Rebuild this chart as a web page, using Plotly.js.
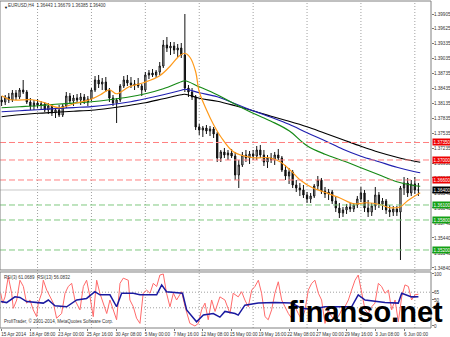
<!DOCTYPE html>
<html><head><meta charset="utf-8">
<script src="https://cdn.plot.ly/plotly-3.0.1.min.js"></script>
<style>html,body{margin:0;padding:0;background:#fff;}#chart{width:450px;height:337px;}</style>
</head><body><div id="chart"></div>
<script>
// bar index: 0 = 18 Apr 2014 08:00 (H4 bars, two bars per candle)
const barIdx = [-16,-14,-12,-10,-8,-6,-4,-2,0,2,
 4,6,8,10,12,14,16,18,20,22,
 24,26,28,30,32,34,36,38,40,42,
 44,46,48,50,52,54,56,58,60,62,
 64,66,68,70,72,74,76,78,80,82,
 84,86,88,90,92,94,96,98,100,102,
 104,106,108,110,112,114,116,118,120,122,
 124,126,128,130,132,134,136,138,140,142,
 144,146,148,150,152,154,156,158,160,162,
 164,166,168,170,172,174,176,178,180,182,
 184,186,188,190,192,194,196,198,200,202,
 204,206,208,210,212,214,216];
const opens = [1.3820,1.3816,1.3826,1.3820,1.3834,1.3826,1.3840,1.3836,1.3816,1.3808,
 1.3814,1.3810,1.3812,1.3800,1.3808,1.3794,1.3800,1.3790,1.3808,1.3828,
 1.3818,1.3824,1.3820,1.3826,1.3816,1.3822,1.3840,1.3860,1.3852,1.3856,
 1.3840,1.3824,1.3814,1.3820,1.3848,1.3860,1.3854,1.3850,1.3852,1.3848,
 1.3840,1.3870,1.3874,1.3870,1.3876,1.3888,1.3930,1.3924,1.3928,1.3920,
 1.3924,1.3910,1.3844,1.3836,1.3826,1.3766,1.3760,1.3764,1.3758,1.3762,
 1.3752,1.3704,1.3716,1.3710,1.3714,1.3708,1.3670,1.3690,1.3710,1.3704,
 1.3712,1.3708,1.3720,1.3710,1.3696,1.3704,1.3700,1.3710,1.3704,1.3680,
 1.3668,1.3676,1.3650,1.3644,1.3640,1.3630,1.3622,1.3628,1.3648,1.3660,
 1.3638,1.3632,1.3636,1.3618,1.3604,1.3594,1.3600,1.3606,1.3602,1.3610,
 1.3622,1.3634,1.3604,1.3596,1.3608,1.3630,1.3612,1.3618,1.3600,1.3596,
 1.3602,1.3596,1.3644,1.3654,1.3634,1.3652,1.3640];
const highs = [1.3828,1.3830,1.3834,1.3840,1.3840,1.3844,1.3860,1.3840,1.3824,1.3820,
 1.3822,1.3818,1.3816,1.3814,1.3812,1.3804,1.3810,1.3812,1.3836,1.3834,
 1.3830,1.3832,1.3834,1.3832,1.3828,1.3844,1.3868,1.3870,1.3864,1.3866,
 1.3844,1.3830,1.3824,1.3852,1.3868,1.3870,1.3866,1.3860,1.3864,1.3852,
 1.3876,1.3880,1.3882,1.3880,1.3896,1.3940,1.3946,1.3936,1.3936,1.3932,
 1.3934,1.3992,1.3850,1.3844,1.3830,1.3772,1.3768,1.3770,1.3768,1.3766,
 1.3756,1.3720,1.3724,1.3720,1.3722,1.3716,1.3700,1.3716,1.3720,1.3718,
 1.3720,1.3728,1.3730,1.3720,1.3710,1.3714,1.3716,1.3722,1.3708,1.3690,
 1.3684,1.3680,1.3660,1.3654,1.3650,1.3636,1.3634,1.3652,1.3668,1.3664,
 1.3646,1.3642,1.3640,1.3626,1.3614,1.3606,1.3612,1.3614,1.3614,1.3628,
 1.3646,1.3640,1.3620,1.3614,1.3646,1.3636,1.3624,1.3622,1.3610,1.3608,
 1.3608,1.3648,1.3666,1.3664,1.3660,1.3666,1.3654];
const lows = [1.3808,1.3810,1.3814,1.3816,1.3820,1.3822,1.3832,1.3812,1.3800,1.3800,
 1.3804,1.3802,1.3796,1.3792,1.3788,1.3784,1.3786,1.3786,1.3804,1.3812,
 1.3808,1.3814,1.3810,1.3812,1.3808,1.3818,1.3836,1.3844,1.3840,1.3836,
 1.3816,1.3808,1.3774,1.3816,1.3844,1.3848,1.3844,1.3840,1.3844,1.3828,
 1.3836,1.3862,1.3866,1.3864,1.3870,1.3884,1.3916,1.3910,1.3912,1.3906,
 1.3904,1.3836,1.3826,1.3820,1.3760,1.3750,1.3746,1.3752,1.3748,1.3744,
 1.3696,1.3696,1.3704,1.3700,1.3704,1.3660,1.3644,1.3686,1.3696,1.3692,
 1.3700,1.3700,1.3704,1.3688,1.3684,1.3694,1.3690,1.3700,1.3676,1.3660,
 1.3652,1.3644,1.3636,1.3628,1.3624,1.3614,1.3614,1.3624,1.3640,1.3632,
 1.3624,1.3620,1.3612,1.3596,1.3584,1.3586,1.3592,1.3596,1.3596,1.3604,
 1.3616,1.3596,1.3586,1.3588,1.3600,1.3604,1.3600,1.3592,1.3586,1.3588,
 1.3588,1.3500,1.3630,1.3626,1.3628,1.3632,1.3628];
const closes = [1.3816,1.3826,1.3820,1.3834,1.3826,1.3840,1.3836,1.3816,1.3808,1.3814,
 1.3810,1.3812,1.3800,1.3808,1.3794,1.3800,1.3790,1.3808,1.3828,1.3818,
 1.3824,1.3820,1.3826,1.3816,1.3822,1.3840,1.3860,1.3852,1.3856,1.3840,
 1.3824,1.3814,1.3820,1.3848,1.3860,1.3854,1.3850,1.3852,1.3848,1.3840,
 1.3870,1.3874,1.3870,1.3876,1.3888,1.3930,1.3924,1.3928,1.3920,1.3924,
 1.3910,1.3844,1.3836,1.3826,1.3766,1.3760,1.3764,1.3758,1.3762,1.3752,
 1.3704,1.3716,1.3710,1.3714,1.3708,1.3670,1.3690,1.3710,1.3704,1.3712,
 1.3708,1.3720,1.3710,1.3696,1.3704,1.3700,1.3710,1.3704,1.3680,1.3668,
 1.3676,1.3650,1.3644,1.3640,1.3630,1.3622,1.3628,1.3648,1.3660,1.3638,
 1.3632,1.3636,1.3618,1.3604,1.3594,1.3600,1.3606,1.3602,1.3610,1.3622,
 1.3634,1.3604,1.3596,1.3608,1.3630,1.3612,1.3618,1.3600,1.3596,1.3602,
 1.3596,1.3644,1.3654,1.3634,1.3652,1.3640,1.3640];

// moving averages (read at sample points)
const maIdx = [-16,-6,4,14,24,34,44,54,64,74,84,86,94,104,114,124,134,144,154,164,174,184,194,204,214,217];
const maBlack = [1.37865,1.37905,1.37935,1.37955,1.37975,1.37995,1.38035,1.38085,1.38145,1.38225,1.38305,1.38315,1.38235,1.38175,1.38085,1.37985,1.37875,1.37775,1.37665,1.37535,1.37405,1.37275,1.37155,1.37055,1.36975,1.36955];
const maBlue = [1.37965,1.37985,1.38005,1.38029,1.38049,1.38069,1.38105,1.38155,1.38225,1.38305,1.38395,1.38415,1.38345,1.38265,1.38125,1.37985,1.37855,1.37715,1.37545,1.37385,1.37215,1.37075,1.36965,1.36855,1.36765,1.36745];
const maGreen = [1.38045,1.38065,1.38085,1.38115,1.38139,1.38165,1.38205,1.38255,1.38325,1.38425,1.38565,1.38585,1.38465,1.38305,1.38115,1.37935,1.37775,1.37585,1.37285,1.37115,1.36985,1.36845,1.36705,1.36565,1.36485,1.36475];
const orangeIdx = [-16,-11,1,8,16,26,33,39,44,48,55,63,72,78,83,86,89,92,94,98,102,106,113,124,133,139,145,150,157,163,172,180,187,195,200,206,210,217];
const maOrange = [1.38285,1.38205,1.38205,1.38145,1.38045,1.38145,1.38205,1.38305,1.38405,1.38325,1.38465,1.38545,1.38685,1.38885,1.39085,1.39135,1.39045,1.38765,1.38365,1.38005,1.37705,1.37465,1.37165,1.37045,1.37045,1.36965,1.36785,1.36605,1.36445,1.36365,1.36245,1.36125,1.36145,1.36105,1.36045,1.36065,1.36185,1.36345];

// RSI
const rsi3Idx = [-16.5,-15.4,-14.1,-12.3,-10.4,-9.5,-7.6,-5.8,-3.9,-2.1,-0.2,1.6,3.5,4.4,6.3,7.2,9.1,10.9,12.8,14.6,17.4,19.3,21.1,23,24.8,27.6,29.5,31.3,33.2,35,36.9,38.7,40.6,42.5,44.3,46.2,48,49.9,51.7,54.5,55.4,57.3,59.1,61,62.8,64.7,66.6,68.4,70.3,72.1,74,75.8,77.7,79.6,81.4,84.2,86.1,88.8,91.6,93.5,95.3,97.2,99,100.9,102.8,105.5,108.3,
 111.1,112.9,115.7,117.6,119.4,121.3,123.2,125,126.9,128.7,130.6,132.4,134.3,136.1,138,139.9,141.7,143.6,145.4,147.3,149.1,151,152.9,154.7,156.6,158.4,160.3,162.1,164,165.8,167.7,169.6,171.4,173.3,175.1,177,178.8,180.7,182.5,184.4,186.3,188.1,190,191.8,193.7,195.5,197.4,199.3,201.1,203,204.8,206.7,208.5,210.4,212.2,214.1,216];
const rsi3 = [63,44,56,95,63,34,50,88,76,44,50,31,18,44,63,88,69,56,44,15,24,63,76,82,50,31,76,88,56,18,88,63,44,24,50,31,12,82,92,88,50,37,15,5,63,69,63,82,76,98,100,63,37,63,50,66,37,5,0,5,31,44,12,50,28,56,50,
 24,63,56,66,50,37,69,76,88,63,18,12,31,63,85,50,37,24,15,37,24,12,31,69,82,88,63,50,5,31,18,12,18,31,37,50,69,88,98,63,31,24,37,44,82,76,63,69,31,50,8,56,79,76,50,60,61.07];
const rsi13Idx = [-16.5,-13.2,-8.6,-5.8,-2.1,1.6,7.2,10,13.7,20.2,25.8,31.3,35.9,38.7,44.3,48,50.8,57.3,61,70.3,73.1,75.8,83.3,84.7,87,92.5,96.3,101.8,105.5,108.3,113.9,115.7,119.4,126.9,136.1,145.4,151,156.6,164,178.8,182.5,186.3,197.4,204.8,206.7,212.2,216];
const rsi13 = [47,45,56,55,47,46,44,50,39,37,50,53,66,60,60,37,63,63,60,60,79,66,64,63,31,8,21,24,17,28,24,21,40,44,45,44,34,32,37,37,60,50,45,44,63,56,56.08];

const tickIdx = [-16,0,16,32,48,64,80,96,112,128,144,160,176,192,208];
const tickText = ['15 Apr 2014','18 Apr 08:00','23 Apr 00:00','25 Apr 16:00','30 Apr 08:00','5 May 00:00','7 May 16:00','12 May 08:00','15 May 00:00','19 May 16:00','22 May 08:00','27 May 00:00','29 May 16:00','3 Jun 08:00','6 Jun 00:00'];
const weekIdx = [4,34,64,94,124,154,184,214];
const priceTicks = [1.39905,1.39625,1.39335,1.39035,1.38735,1.38435,1.38135,1.37835,1.37535,1.37235,1.36930,1.36640,1.36340,1.36040,1.35740,1.35440,1.35140,1.34840];
const redLevels = [1.3735,1.3700,1.3660];
const greenLevels = [1.3610,1.3580,1.3520];
const bidPrice = 1.3640;
const rsiLevels = [65,35];
const rsiTicks = [100,65,50,35,0];

const FONT = 'Liberation Sans, Arial, sans-serif';
const traces = [
 {type:'candlestick', x:barIdx, open:opens, high:highs, low:lows, close:closes,
  increasing:{line:{color:'#111',width:1}, fillcolor:'#ffffff'},
  decreasing:{line:{color:'#111',width:1}, fillcolor:'#111111'},
  whiskerwidth:0, hoverinfo:'skip', xaxis:'x', yaxis:'y'},
 {type:'scatter', mode:'lines', x:maIdx, y:maBlack, line:{color:'#000000',width:1.2,shape:'spline'}, xaxis:'x', yaxis:'y'},
 {type:'scatter', mode:'lines', x:maIdx, y:maBlue, line:{color:'#2020b0',width:1.2,shape:'spline'}, xaxis:'x', yaxis:'y'},
 {type:'scatter', mode:'lines', x:maIdx, y:maGreen, line:{color:'#168a16',width:1.2,shape:'spline'}, xaxis:'x', yaxis:'y'},
 {type:'scatter', mode:'lines', x:orangeIdx, y:maOrange, line:{color:'#ff9a1a',width:1.2,shape:'spline'}, xaxis:'x', yaxis:'y'},
 {type:'scatter', mode:'lines', x:rsi3Idx, y:rsi3, line:{color:'#ff6a6a',width:1}, xaxis:'x', yaxis:'y2'},
 {type:'scatter', mode:'lines', x:rsi13Idx, y:rsi13, line:{color:'#1a1aa0',width:1.5}, xaxis:'x', yaxis:'y2'}
];

const shapes = [];
weekIdx.forEach(v => shapes.push({type:'line', xref:'x', yref:'paper', x0:v, x1:v, y0:0, y1:1, line:{color:'#a0a0a0', width:1, dash:'1px,2px'}, layer:'below'}));
shapes.push({type:'line', xref:'paper', yref:'y', x0:0, x1:1, y0:bidPrice, y1:bidPrice, line:{color:'#c8c8c8', width:1}, layer:'below'});
redLevels.forEach(v => shapes.push({type:'line', xref:'paper', yref:'y', x0:0, x1:1, y0:v, y1:v, line:{color:'#ff7f7f', width:1, dash:'6px,3px'}}));
greenLevels.forEach(v => shapes.push({type:'line', xref:'paper', yref:'y', x0:0, x1:1, y0:v, y1:v, line:{color:'#7fc87f', width:1, dash:'6px,3px'}}));
rsiLevels.forEach(v => shapes.push({type:'line', xref:'paper', yref:'y2', x0:0, x1:1, y0:v, y1:v, line:{color:'#a0a0a0', width:1, dash:'1px,2px'}, layer:'below'}));
shapes.push({type:'rect', xref:'paper', yref:'paper', x0:0, x1:1, y0:0.1774, y1:1, line:{color:'#808080', width:1}});
shapes.push({type:'rect', xref:'paper', yref:'paper', x0:0, x1:1, y0:0, y1:0.1713, line:{color:'#808080', width:1}});

const annotations = [];
const box = (v, bg, txt) => annotations.push({xref:'paper', yref:'y', x:1, y:v, xanchor:'left', yanchor:'middle', xshift:1, text:txt, showarrow:false, bgcolor:bg, borderpad:0.5, font:{family:FONT, size:4.6, color:'#ffffff'}});
redLevels.forEach(v => box(v, '#ee0000', v.toFixed(5)));
greenLevels.forEach(v => box(v, '#14a014', v.toFixed(5)));
box(bidPrice, '#000000', bidPrice.toFixed(5));
annotations.push({xref:'paper', yref:'paper', x:0.004, y:1.0, xanchor:'left', yanchor:'top', yshift:-2, text:'▼', showarrow:false, font:{family:FONT, size:4, color:'#000'}});
annotations.push({xref:'paper', yref:'paper', x:0.004, y:0.1713, xanchor:'left', yanchor:'top', yshift:-1, text:'RSI(3) 61.0689  RSI(13) 56.0832', showarrow:false, font:{family:FONT, size:4.5, color:'#333'}});
annotations.push({xref:'paper', yref:'paper', x:0.004, y:0.0, xanchor:'left', yanchor:'bottom', yshift:2, text:'ProfiTrader, © 2001-2014, MetaQuotes Software Corp.', showarrow:false, font:{family:FONT, size:4.5, color:'#333'}});
annotations.push({xref:'paper', yref:'paper', x:0.847, y:0.05, xanchor:'center', yanchor:'middle', text:'<b>finanso.net</b>', showarrow:false, font:{family:'Liberation Sans, Arial, sans-serif', size:29, color:'#000'}});

const layout = {
 width:450, height:337, margin:{l:0, r:19, t:1, b:9},
 paper_bgcolor:'#ffffff', plot_bgcolor:'#ffffff', showlegend:false, hovermode:false, boxgap:0.5,
 title:{text:'EURUSD,H4  1.36443 1.36679 1.36385 1.36400', x:0.018, xanchor:'left', xref:'container', y:0.985, yanchor:'middle', yref:'container', font:{family:FONT, size:4.5, color:'#333'}},
 xaxis:{range:[-16.9,223.0], anchor:'y2', tickmode:'array', tickvals:tickIdx, ticktext:tickText, tickangle:0, ticks:'outside', ticklen:2, tickcolor:'#777', ticklabelshift:12, ticklabelstandoff:-1, ticklabeloverflow:'allow',
   tickfont:{family:FONT, size:4.6, color:'#333'}, showgrid:false, zeroline:false, showline:false, rangeslider:{visible:false}, fixedrange:true, automargin:false},
 yaxis:{domain:[0.1774,1], range:[1.3480,1.4018], side:'right', anchor:'x', tickmode:'array', tickvals:priceTicks, ticktext:priceTicks.map(v=>v.toFixed(5)), ticklabeloverflow:'allow',
   ticks:'outside', ticklen:2, tickcolor:'#777', ticklabelstandoff:-1, tickfont:{family:FONT, size:4.6, color:'#333'}, showgrid:false, zeroline:false, showline:false, fixedrange:true, automargin:false},
 yaxis2:{domain:[0,0.1713], range:[-3.85,103.85], side:'right', anchor:'x', tickmode:'array', tickvals:rsiTicks, ticktext:rsiTicks.map(String), ticklabeloverflow:'allow',
   ticks:'outside', ticklen:2, tickcolor:'#777', ticklabelstandoff:-1, tickfont:{family:FONT, size:4.6, color:'#333'}, showgrid:false, zeroline:false, showline:false, fixedrange:true, automargin:false},
 shapes:shapes, annotations:annotations
};
Plotly.newPlot('chart', traces, layout, {staticPlot:true, displayModeBar:false});
</script></body></html>
